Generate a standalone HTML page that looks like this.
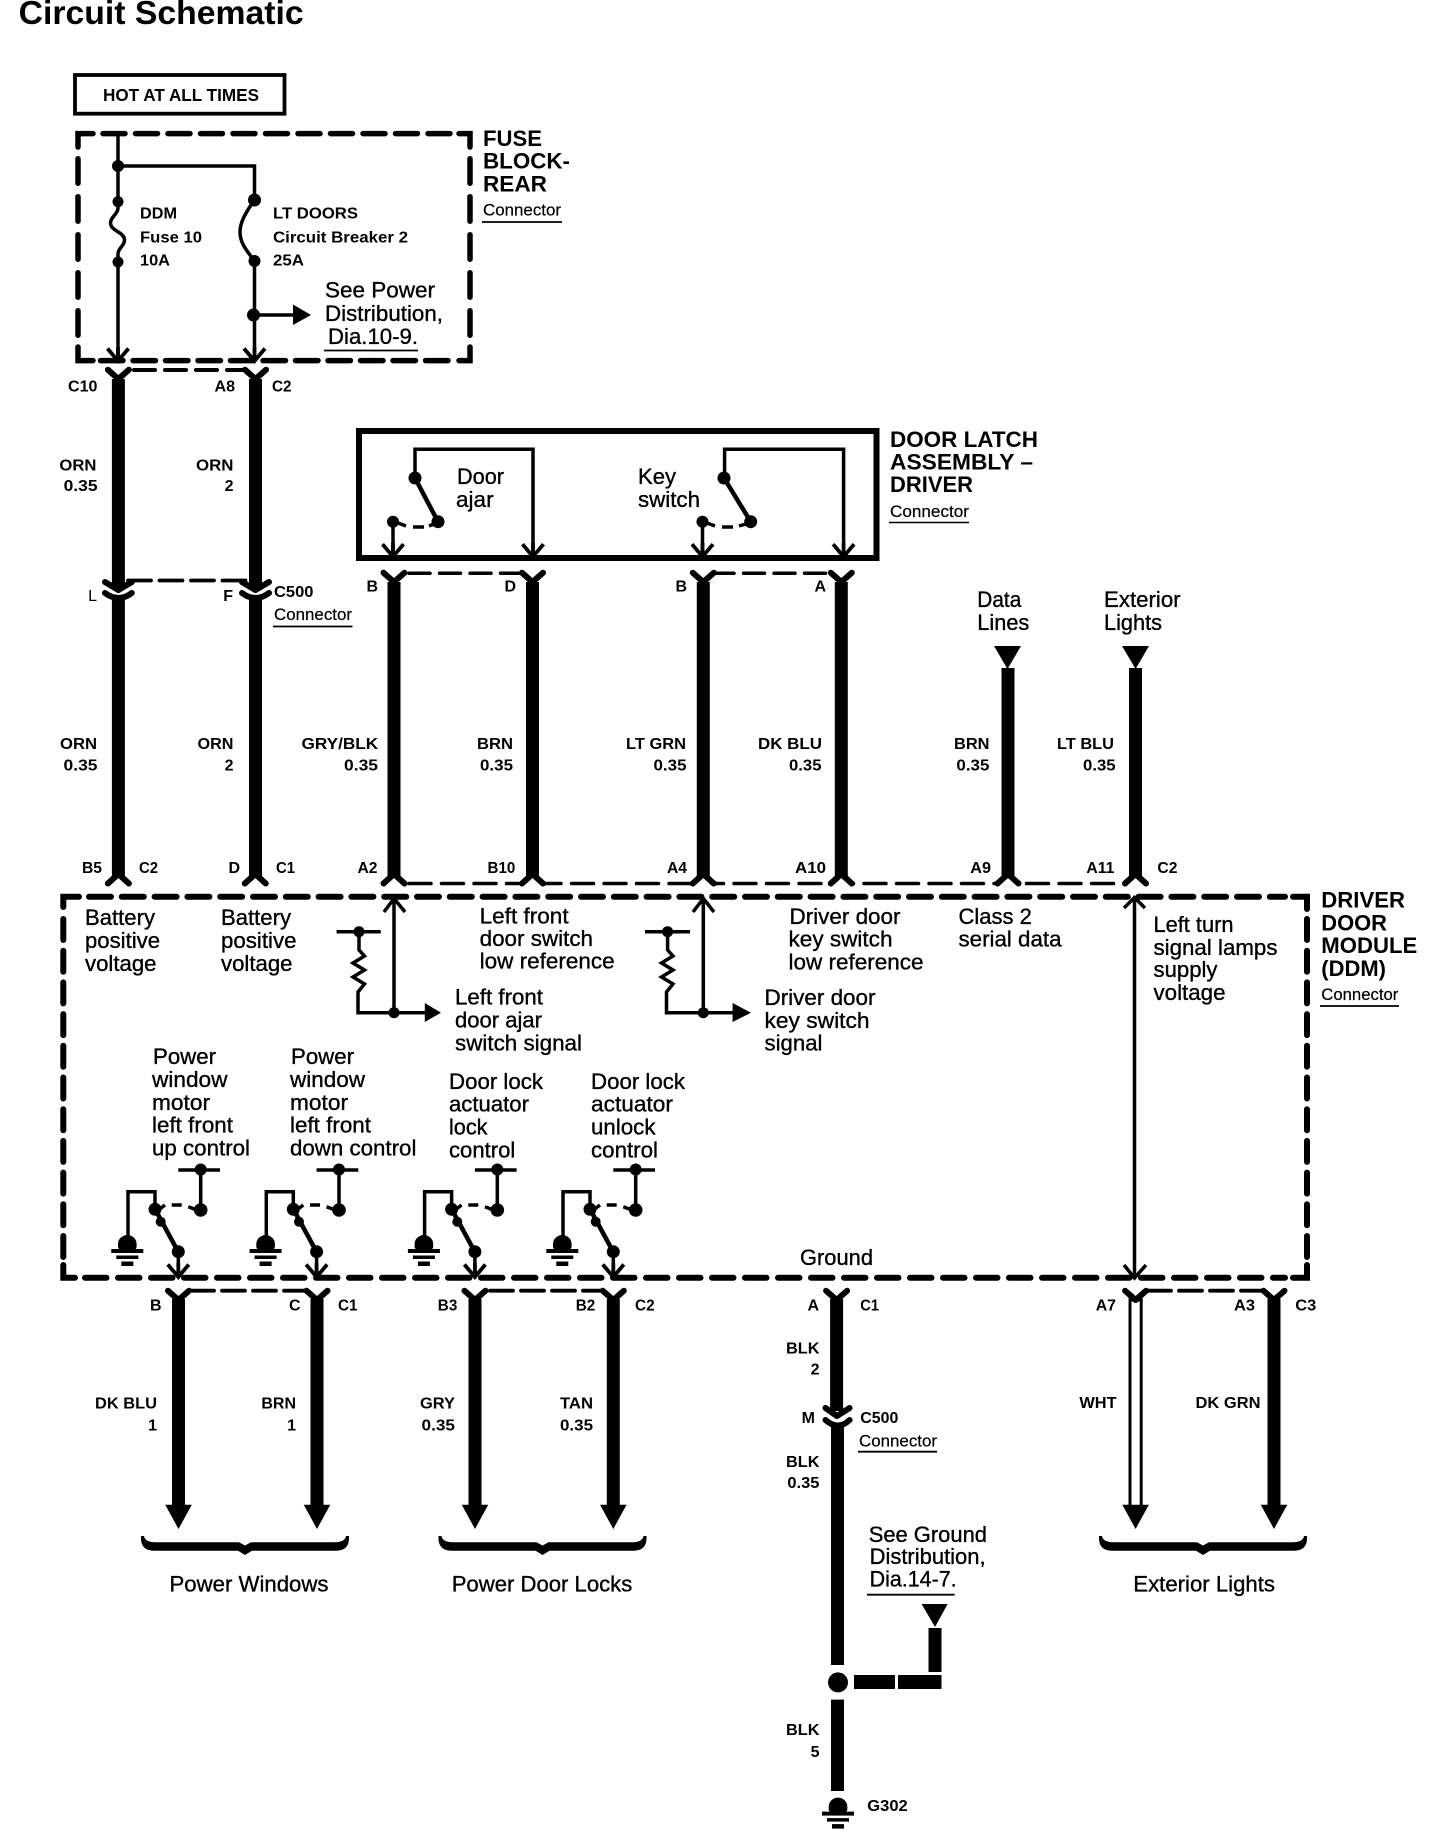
<!DOCTYPE html>
<html><head><meta charset="utf-8"><title>Circuit Schematic</title>
<style>
html,body{margin:0;padding:0;background:#fff;width:1456px;height:1838px;overflow:hidden}
svg{display:block}
text{fill:#000;font-family:"Liberation Sans",Arial,sans-serif}
.t{font-weight:bold;font-size:33px}
.h{font-weight:bold;font-size:22px}
.b{font-weight:bold;font-size:16px}
.e{font-weight:bold;font-size:16px;text-anchor:end}
.r{font-size:22.5px;stroke:#000;stroke-width:.35px}
.c{font-size:17px;stroke:#000;stroke-width:.2px}
.w{fill:none;stroke:#000;stroke-width:13}
.n{fill:none;stroke:#000;stroke-width:3.5}
</style></head><body>
<svg xmlns="http://www.w3.org/2000/svg" width="1456" height="1838" viewBox="0 0 1456 1838">
<defs>
<path id="ft" d="M-10.5 -9.3 L0 0 L10.5 -9.3" fill="none" stroke="#000" stroke-width="6" stroke-linecap="round" stroke-linejoin="round"/>
<path id="fb" d="M-10.5 9.5 L0 0 L10.5 9.5" fill="none" stroke="#000" stroke-width="6" stroke-linecap="round" stroke-linejoin="round"/>
<path id="va" d="M-10.5 -12.5 L0 0 L10.5 -12.5 M0 0 V-14" fill="none" stroke="#000" stroke-width="3.8"/>
<g id="gnd"><path d="M-9.3 12 V9 A9.3 9 0 0 1 9.3 9 V12 Q9 14.5 6 14.5 H-6 Q-9 14.5 -9.3 12 Z"/><rect x="-16" y="14" width="32" height="4"/><rect x="-11" y="20.5" width="22" height="3.5"/><rect x="-6" y="26.5" width="12" height="4.5"/></g>
<path id="br" d="M-104 -10 L-101 -10 Q-100 -4 -90 -3.7 H-6 L0 -0.5 L6 -3.7 H90 Q100 -4 101 -10 L104 -10 Q105 4.7 91 4.7 H7 L0 9 L-7 4.7 H-91 Q-105 4.7 -104 -10 Z"/>
<rect id="wg" x="-10" y="-3" width="20" height="6" fill="#fff"/>
<g id="sw">
<path class="n" d="M178.3 1170 H220 M200.7 1170 V1210 M155 1209 V1191.7 H128 V1236"/>
<circle cx="200.7" cy="1169.5" r="6"/><circle cx="200.7" cy="1210" r="6.8"/><circle cx="155" cy="1209.3" r="6.5"/>
<circle cx="160.7" cy="1221.7" r="5"/><circle cx="178.3" cy="1251.7" r="6.5"/>
<path d="M155 1209 L178.3 1252" fill="none" stroke="#000" stroke-width="4.5"/>
<path class="n" d="M157 1211 L165 1205 M171.7 1205 H181.7 M188.3 1206.7 L196.7 1210 M178.3 1252 V1276"/>
<use href="#va" x="178.3" y="1277"/>
<use href="#gnd" x="127.3" y="1235"/>
</g>
</defs>

<text class="t" x="18.6" y="24" textLength="285" lengthAdjust="spacingAndGlyphs">Circuit Schematic</text>

<!-- HOT -->
<rect x="75" y="75" width="209.5" height="38.7" fill="none" stroke="#000" stroke-width="3.8"/>
<text class="b" x="103" y="101" textLength="156" lengthAdjust="spacingAndGlyphs" style="font-size:17.5px">HOT AT ALL TIMES</text>

<!-- Fuse block -->
<g fill="none" stroke="#000" stroke-width="5.5" stroke-linecap="round">
<path d="M78 147 V133.6 H93 M459 133.6 H470 V147 M78 347 V360.6 H93 M459 360.6 H470 V347"/>
<path d="M103 133.6 H452" stroke-dasharray="22 10.5"/>
<path d="M100.5 360.6 H452" stroke-dasharray="22.5 10"/>
<path d="M78 158.7 V338" stroke-dasharray="24.5 13.5"/>
<path d="M470 158.7 V338" stroke-dasharray="24.5 13.5"/>
</g>
<path class="n" d="M118 134 V202 L118 208 C118 214 110.5 217 110.5 223 C110.5 231 124.5 232 124.5 240 C124.5 246 118 248 118 254 V360 M118 166 H254.5 V200 C246 212 240 222 240 232 C240 244 248 252 254.5 261 V360 M254 315 H295"/>
<circle cx="118" cy="166" r="6"/><circle cx="118" cy="201.7" r="5.5"/><circle cx="118" cy="262" r="5.5"/>
<circle cx="254.5" cy="200" r="6.5"/><circle cx="254.5" cy="261" r="6"/><circle cx="253.5" cy="315" r="6.5"/>
<path d="M293 304.5 L311 315 L293 325 Z"/>
<use href="#va" x="118" y="361"/><use href="#va" x="254.5" y="361"/>
<text class="b" x="140" y="218.7" textLength="37" lengthAdjust="spacingAndGlyphs">DDM</text>
<text class="b" x="140" y="242.4" textLength="62" lengthAdjust="spacingAndGlyphs">Fuse 10</text>
<text class="b" x="140" y="265.7" textLength="30" lengthAdjust="spacingAndGlyphs">10A</text>
<text class="b" x="273" y="218.7" textLength="85" lengthAdjust="spacingAndGlyphs">LT DOORS</text>
<text class="b" x="273" y="242.4" textLength="135" lengthAdjust="spacingAndGlyphs">Circuit Breaker 2</text>
<text class="b" x="273" y="265.7" textLength="31" lengthAdjust="spacingAndGlyphs">25A</text>
<text class="r" x="325" y="297.4" textLength="110" lengthAdjust="spacingAndGlyphs">See Power</text>
<text class="r" x="325" y="321" textLength="118" lengthAdjust="spacingAndGlyphs">Distribution,</text>
<text class="r" x="328" y="344" textLength="90" lengthAdjust="spacingAndGlyphs">Dia.10-9.</text>
<path d="M324 350.5 H418" stroke="#000" stroke-width="1.8"/>
<text class="h" x="483" y="146" textLength="59" lengthAdjust="spacingAndGlyphs">FUSE</text>
<text class="h" x="483" y="168.5" textLength="87" lengthAdjust="spacingAndGlyphs">BLOCK-</text>
<text class="h" x="483" y="191.6" textLength="64" lengthAdjust="spacingAndGlyphs">REAR</text>
<text class="c" x="483" y="215.5" textLength="78" lengthAdjust="spacingAndGlyphs">Connector</text>
<path d="M482 222 H562" stroke="#000" stroke-width="1.8"/>

<!-- Top wires -->
<path class="w" d="M118.4 379 V589 M255.5 379 V589 M118.4 598 V876 M255.5 598 V876"/>
<use href="#ft" x="118.4" y="379"/><use href="#ft" x="255.5" y="379"/>
<path d="M134 370 H246" stroke="#000" stroke-width="4" stroke-dasharray="21 10" stroke-linecap="round" fill="none"/>
<path d="M105 582 L118.4 590 L131.8 582 M242 582 L255.5 590 L269 582" fill="none" stroke="#000" stroke-width="6" stroke-linecap="round" stroke-linejoin="round"/>
<path d="M105 593 Q118.4 603 131.8 593 M242 593 Q255.5 603 269 593" fill="none" stroke="#000" stroke-width="6" stroke-linecap="round"/>
<path d="M128 580.5 H246" stroke="#000" stroke-width="3.8" stroke-dasharray="23 8.5" stroke-linecap="round" fill="none"/>
<text class="b" x="68" y="391.5" textLength="29.5" lengthAdjust="spacingAndGlyphs">C10</text>
<text class="b" x="214.5" y="391.5" textLength="20.5" lengthAdjust="spacingAndGlyphs">A8</text>
<text class="b" x="272" y="391.5" textLength="19.5" lengthAdjust="spacingAndGlyphs">C2</text>
<text class="b" x="59.4" y="470.5" textLength="37" lengthAdjust="spacingAndGlyphs">ORN</text>
<text class="b" x="63.6" y="491" textLength="34" lengthAdjust="spacingAndGlyphs">0.35</text>
<text class="b" x="196" y="470.5" textLength="37.5" lengthAdjust="spacingAndGlyphs">ORN</text>
<text class="e" x="233.5" y="491">2</text>
<text class="e" x="97" y="601" style="font-weight:normal">L</text>
<text class="e" x="233" y="601">F</text>
<text class="b" x="274" y="597" textLength="39.5" lengthAdjust="spacingAndGlyphs">C500</text>
<text class="c" x="274" y="620" textLength="78" lengthAdjust="spacingAndGlyphs">Connector</text>
<path d="M273 626.5 H352.5" stroke="#000" stroke-width="1.8"/>

<!-- Door latch -->
<rect x="359" y="431" width="517.5" height="127" fill="none" stroke="#000" stroke-width="6"/>
<path class="n" d="M415 478 V449.3 H533 V556 M393 522 V556 M724.6 478 V449.3 H843.6 V556 M702.5 522 V556"/>
<circle cx="415" cy="478" r="6.5"/><circle cx="438" cy="521.7" r="6.5"/><circle cx="393" cy="521.7" r="6"/>
<circle cx="724" cy="478" r="6.5"/><circle cx="750.7" cy="521.7" r="6.5"/><circle cx="702.5" cy="521.7" r="6"/>
<path d="M415 478 L438 521.7 M724 478 L750.7 521.7" fill="none" stroke="#000" stroke-width="4.5"/>
<path class="n" d="M398 523 L406 526 M413 527 H424 M429 526 L434 524 M707 523 L715 526 M722 527 H733 M739 526 L746 524"/>
<use href="#va" x="393" y="556.7"/><use href="#va" x="533" y="556.7"/><use href="#va" x="702.5" y="556.7"/><use href="#va" x="843.6" y="556.7"/>
<text class="r" x="457" y="484" textLength="47" lengthAdjust="spacingAndGlyphs">Door</text>
<text class="r" x="456" y="507" textLength="37.6" lengthAdjust="spacingAndGlyphs">ajar</text>
<text class="r" x="638" y="484" textLength="38" lengthAdjust="spacingAndGlyphs">Key</text>
<text class="r" x="638" y="507" textLength="62" lengthAdjust="spacingAndGlyphs">switch</text>
<text class="h" x="890" y="447" textLength="148" lengthAdjust="spacingAndGlyphs">DOOR LATCH</text>
<text class="h" x="890" y="469.5" textLength="143" lengthAdjust="spacingAndGlyphs">ASSEMBLY –</text>
<text class="h" x="890" y="492" textLength="83" lengthAdjust="spacingAndGlyphs">DRIVER</text>
<text class="c" x="890" y="517" textLength="79" lengthAdjust="spacingAndGlyphs">Connector</text>
<path d="M889 522.5 H969" stroke="#000" stroke-width="1.5"/>

<!-- Middle wires -->
<path class="w" d="M394 582 V876 M532.5 582 V876 M703.3 582 V876 M841.3 582 V876 M1008 668 V876 M1135.5 668 V876"/>
<use href="#ft" x="394" y="582"/><use href="#ft" x="532.5" y="582"/><use href="#ft" x="703.3" y="582"/><use href="#ft" x="841.3" y="582"/>
<path d="M409 573.3 H522 M713 573.3 H829" stroke="#000" stroke-width="3.5" stroke-dasharray="21 9.5" stroke-linecap="round" fill="none"/>
<path d="M994 646 H1021 L1007.5 669 Z M1122 646 H1149 L1135.6 669 Z"/>
<path d="M409 883.5 H1121" stroke="#000" stroke-width="3.5" stroke-dasharray="22 10.5" stroke-linecap="round" fill="none"/>
<use href="#wg" x="532.5" y="884"/><use href="#wg" x="703.3" y="884"/><use href="#wg" x="841.3" y="884"/><use href="#wg" x="1008" y="884"/>
<use href="#fb" x="118.4" y="874"/><use href="#fb" x="255.3" y="874"/><use href="#fb" x="394" y="874"/><use href="#fb" x="532.5" y="874"/><use href="#fb" x="703.3" y="874"/><use href="#fb" x="841.3" y="874"/><use href="#fb" x="1008" y="874"/><use href="#fb" x="1135.5" y="874"/>
<text class="e" x="378" y="591.7">B</text>
<text class="e" x="516" y="591.7">D</text>
<text class="e" x="687" y="591.7">B</text>
<text class="e" x="826" y="591.7">A</text>
<text class="r" x="977.3" y="607" textLength="44" lengthAdjust="spacingAndGlyphs">Data</text>
<text class="r" x="977.3" y="630" textLength="52" lengthAdjust="spacingAndGlyphs">Lines</text>
<text class="r" x="1104" y="607" textLength="76.6" lengthAdjust="spacingAndGlyphs">Exterior</text>
<text class="r" x="1104" y="630" textLength="58" lengthAdjust="spacingAndGlyphs">Lights</text>
<text class="b" x="60" y="749" textLength="37" lengthAdjust="spacingAndGlyphs">ORN</text>
<text class="b" x="63.5" y="770.5" textLength="34" lengthAdjust="spacingAndGlyphs">0.35</text>
<text class="b" x="197.5" y="749" textLength="36" lengthAdjust="spacingAndGlyphs">ORN</text>
<text class="e" x="233.5" y="770.5">2</text>
<text class="b" x="301.5" y="749" textLength="76.7" lengthAdjust="spacingAndGlyphs">GRY/BLK</text>
<text class="b" x="344" y="770.5" textLength="34" lengthAdjust="spacingAndGlyphs">0.35</text>
<text class="b" x="477" y="749" textLength="36" lengthAdjust="spacingAndGlyphs">BRN</text>
<text class="b" x="480" y="770.5" textLength="33" lengthAdjust="spacingAndGlyphs">0.35</text>
<text class="b" x="626" y="749" textLength="60" lengthAdjust="spacingAndGlyphs">LT GRN</text>
<text class="b" x="653.5" y="770.5" textLength="33" lengthAdjust="spacingAndGlyphs">0.35</text>
<text class="b" x="758" y="749" textLength="64" lengthAdjust="spacingAndGlyphs">DK BLU</text>
<text class="b" x="789" y="770.5" textLength="32.5" lengthAdjust="spacingAndGlyphs">0.35</text>
<text class="b" x="954" y="749" textLength="35.5" lengthAdjust="spacingAndGlyphs">BRN</text>
<text class="b" x="956.4" y="770.5" textLength="33" lengthAdjust="spacingAndGlyphs">0.35</text>
<text class="b" x="1057" y="749" textLength="57" lengthAdjust="spacingAndGlyphs">LT BLU</text>
<text class="b" x="1083" y="770.5" textLength="32.6" lengthAdjust="spacingAndGlyphs">0.35</text>
<text class="b" x="82" y="873" textLength="20" lengthAdjust="spacingAndGlyphs">B5</text>
<text class="b" x="139" y="873" textLength="19" lengthAdjust="spacingAndGlyphs">C2</text>
<text class="e" x="240" y="873">D</text>
<text class="b" x="276" y="873" textLength="19" lengthAdjust="spacingAndGlyphs">C1</text>
<text class="b" x="357.5" y="873" textLength="20" lengthAdjust="spacingAndGlyphs">A2</text>
<text class="b" x="487.5" y="873" textLength="27.8" lengthAdjust="spacingAndGlyphs">B10</text>
<text class="b" x="667" y="873" textLength="20" lengthAdjust="spacingAndGlyphs">A4</text>
<text class="b" x="795" y="873" textLength="31" lengthAdjust="spacingAndGlyphs">A10</text>
<text class="b" x="970.3" y="873" textLength="20.7" lengthAdjust="spacingAndGlyphs">A9</text>
<text class="b" x="1086.4" y="873" textLength="28" lengthAdjust="spacingAndGlyphs">A11</text>
<text class="b" x="1157.4" y="873" textLength="20" lengthAdjust="spacingAndGlyphs">C2</text>

<!-- Module box -->
<g fill="none" stroke="#000" stroke-width="6" stroke-linecap="round">
<path d="M63.3 907 V896.8 H79 M1293 896.8 H1307 V909 M63.3 1265 V1277.7 H75 M1293 1277.7 H1307 V1265"/>
<path d="M89 896.8 H1285" stroke-dasharray="22 10.8"/>
<path d="M85 1277.7 H1285" stroke-dasharray="21.5 11.5"/>
<path d="M63.3 919 V1258" stroke-dasharray="21 10.7"/>
<path d="M1307 919 V1258" stroke-dasharray="21 10.7"/>
</g>
<text class="r" x="85" y="925" textLength="70" lengthAdjust="spacingAndGlyphs">Battery</text>
<text class="r" x="85" y="948" textLength="75" lengthAdjust="spacingAndGlyphs">positive</text>
<text class="r" x="85" y="971" textLength="71.5" lengthAdjust="spacingAndGlyphs">voltage</text>
<text class="r" x="221" y="925" textLength="70" lengthAdjust="spacingAndGlyphs">Battery</text>
<text class="r" x="221" y="948" textLength="75.5" lengthAdjust="spacingAndGlyphs">positive</text>
<text class="r" x="221" y="971" textLength="71.5" lengthAdjust="spacingAndGlyphs">voltage</text>
<text class="r" x="479.6" y="923.3" textLength="89" lengthAdjust="spacingAndGlyphs">Left front</text>
<text class="r" x="479.6" y="946" textLength="113.4" lengthAdjust="spacingAndGlyphs">door switch</text>
<text class="r" x="479.6" y="968.6" textLength="135" lengthAdjust="spacingAndGlyphs">low reference</text>
<text class="r" x="455" y="1004.3" textLength="88" lengthAdjust="spacingAndGlyphs">Left front</text>
<text class="r" x="455" y="1027.5" textLength="87" lengthAdjust="spacingAndGlyphs">door ajar</text>
<text class="r" x="455" y="1050.7" textLength="127" lengthAdjust="spacingAndGlyphs">switch signal</text>
<text class="r" x="789.5" y="924" textLength="111" lengthAdjust="spacingAndGlyphs">Driver door</text>
<text class="r" x="788.5" y="946.5" textLength="104" lengthAdjust="spacingAndGlyphs">key switch</text>
<text class="r" x="788.5" y="969.4" textLength="135" lengthAdjust="spacingAndGlyphs">low reference</text>
<text class="r" x="764.5" y="1005" textLength="111" lengthAdjust="spacingAndGlyphs">Driver door</text>
<text class="r" x="764.5" y="1028" textLength="105" lengthAdjust="spacingAndGlyphs">key switch</text>
<text class="r" x="764.5" y="1050.7" textLength="58" lengthAdjust="spacingAndGlyphs">signal</text>
<text class="r" x="958.5" y="924" textLength="73.3" lengthAdjust="spacingAndGlyphs">Class 2</text>
<text class="r" x="958.5" y="946.5" textLength="103" lengthAdjust="spacingAndGlyphs">serial data</text>
<text class="r" x="1153.5" y="932" textLength="80" lengthAdjust="spacingAndGlyphs">Left turn</text>
<text class="r" x="1153.5" y="954.8" textLength="124" lengthAdjust="spacingAndGlyphs">signal lamps</text>
<text class="r" x="1153.5" y="977" textLength="64" lengthAdjust="spacingAndGlyphs">supply</text>
<text class="r" x="1153.5" y="1000" textLength="72" lengthAdjust="spacingAndGlyphs">voltage</text>
<text class="h" x="1321.3" y="907.5" textLength="83.7" lengthAdjust="spacingAndGlyphs">DRIVER</text>
<text class="h" x="1321.3" y="930.3" textLength="65.7" lengthAdjust="spacingAndGlyphs">DOOR</text>
<text class="h" x="1321.3" y="953" textLength="96" lengthAdjust="spacingAndGlyphs">MODULE</text>
<text class="h" x="1321.3" y="976" textLength="64.7" lengthAdjust="spacingAndGlyphs">(DDM)</text>
<text class="c" x="1321.3" y="1000" textLength="77" lengthAdjust="spacingAndGlyphs">Connector</text>
<path d="M1320 1006 H1399" stroke="#000" stroke-width="1.8"/>

<!-- resistor circuits -->
<path class="n" d="M336.6 931.7 H380.7 M359 932 V950 L364.5 956 L353 963 L364.5 970 L353 977 L364.5 984 L358 992 V1012.7 H426 M394 899 V1012.7"/>
<circle cx="359" cy="931.7" r="5.5"/><circle cx="394" cy="1012.7" r="5.5"/>
<path d="M424.8 1003 L441 1012.7 L424.8 1022 Z"/>
<path class="n" d="M384 912 L394 898.5 L405 912"/>
<path class="n" d="M645 931.7 H690 M667.6 932 V950 L673 956 L661.5 963 L673 970 L661.5 977 L673 984 L666.5 992 V1012.7 H734 M703.3 899 V1012.7"/>
<circle cx="667.6" cy="931.7" r="5.5"/><circle cx="703.3" cy="1012.7" r="5.5"/>
<path d="M732.6 1003 L751 1012.7 L732.6 1022 Z"/>
<path class="n" d="M693 912 L703.3 898.5 L714 912"/>
<path class="n" d="M1134.5 899 V1277 M1124 908 L1134.5 897.5 L1145 908 M1124 1265 L1134.5 1278 L1146 1265"/>

<!-- Switch labels -->
<text class="r" x="153" y="1064" textLength="63" lengthAdjust="spacingAndGlyphs">Power</text>
<text class="r" x="152" y="1087" textLength="75.5" lengthAdjust="spacingAndGlyphs">window</text>
<text class="r" x="152" y="1110" textLength="58" lengthAdjust="spacingAndGlyphs">motor</text>
<text class="r" x="152" y="1132.7" textLength="81" lengthAdjust="spacingAndGlyphs">left front</text>
<text class="r" x="152" y="1155.7" textLength="98" lengthAdjust="spacingAndGlyphs">up control</text>
<text class="r" x="291" y="1064" textLength="63" lengthAdjust="spacingAndGlyphs">Power</text>
<text class="r" x="290" y="1087" textLength="75" lengthAdjust="spacingAndGlyphs">window</text>
<text class="r" x="290" y="1110" textLength="58" lengthAdjust="spacingAndGlyphs">motor</text>
<text class="r" x="290" y="1132.7" textLength="81" lengthAdjust="spacingAndGlyphs">left front</text>
<text class="r" x="290" y="1155.7" textLength="126.4" lengthAdjust="spacingAndGlyphs">down control</text>
<text class="r" x="449" y="1089" textLength="94" lengthAdjust="spacingAndGlyphs">Door lock</text>
<text class="r" x="449" y="1111.7" textLength="80" lengthAdjust="spacingAndGlyphs">actuator</text>
<text class="r" x="449" y="1134.3" textLength="38.5" lengthAdjust="spacingAndGlyphs">lock</text>
<text class="r" x="449" y="1157.3" textLength="66.3" lengthAdjust="spacingAndGlyphs">control</text>
<text class="r" x="591" y="1089" textLength="94" lengthAdjust="spacingAndGlyphs">Door lock</text>
<text class="r" x="591" y="1111.7" textLength="82" lengthAdjust="spacingAndGlyphs">actuator</text>
<text class="r" x="591" y="1134.3" textLength="64.5" lengthAdjust="spacingAndGlyphs">unlock</text>
<text class="r" x="591" y="1157.3" textLength="67" lengthAdjust="spacingAndGlyphs">control</text>
<text class="r" x="800" y="1264.8" textLength="73" lengthAdjust="spacingAndGlyphs">Ground</text>

<use href="#sw"/><use href="#sw" x="138.3"/><use href="#sw" x="296.6"/><use href="#sw" x="435"/>

<!-- Lower wires -->
<path class="w" d="M178.5 1299 V1506 M317 1299 V1506 M475 1299 V1506 M613.3 1299 V1506 M1274 1299 V1506"/>
<path d="M165.2 1504.7 H191.8 L178.5 1529 Z M303.7 1504.7 H330.3 L317 1529 Z M461.7 1504.7 H488.3 L475 1529 Z M600 1504.7 H626.6 L613.3 1529 Z M1260.7 1504.7 H1287.3 L1274 1529 Z M1122.3 1504.7 H1148.9 L1135.6 1529 Z"/>
<use href="#ft" x="178.5" y="1300"/><use href="#ft" x="317" y="1300"/><use href="#ft" x="475" y="1300"/><use href="#ft" x="613.3" y="1300"/><use href="#ft" x="836.6" y="1300"/><use href="#ft" x="1135.6" y="1300"/><use href="#ft" x="1274" y="1300"/>
<path d="M191 1290.7 H304 M490 1290.7 H601 M1148 1290.7 H1262" stroke="#000" stroke-width="3.8" stroke-dasharray="23 8" stroke-linecap="round" fill="none"/>
<path d="M1130 1300 V1505 M1141.2 1300 V1505" fill="none" stroke="#000" stroke-width="3"/>
<path d="M1128.6 1299.5 H1142.6" stroke="#000" stroke-width="4"/>
<!-- brackets -->
<use href="#br" x="245" y="1546"/><use href="#br" x="542.5" y="1546"/><use href="#br" x="1203" y="1546"/>
<text class="r" x="169.5" y="1591.7" textLength="159" lengthAdjust="spacingAndGlyphs">Power Windows</text>
<text class="r" x="451.7" y="1591.7" textLength="180.6" lengthAdjust="spacingAndGlyphs">Power Door Locks</text>
<text class="r" x="1133.3" y="1591.7" textLength="141.7" lengthAdjust="spacingAndGlyphs">Exterior Lights</text>

<text class="e" x="161.5" y="1310.7">B</text>
<text class="e" x="300.5" y="1310.7">C</text>
<text class="b" x="338" y="1310.7" textLength="19.5" lengthAdjust="spacingAndGlyphs">C1</text>
<text class="b" x="437.8" y="1310.7" textLength="19.5" lengthAdjust="spacingAndGlyphs">B3</text>
<text class="b" x="575.7" y="1310.7" textLength="19.5" lengthAdjust="spacingAndGlyphs">B2</text>
<text class="b" x="635" y="1310.7" textLength="19.6" lengthAdjust="spacingAndGlyphs">C2</text>
<text class="e" x="819" y="1310.7">A</text>
<text class="b" x="860.3" y="1310.7" textLength="18.7" lengthAdjust="spacingAndGlyphs">C1</text>
<text class="b" x="1095.7" y="1310.7" textLength="20.3" lengthAdjust="spacingAndGlyphs">A7</text>
<text class="b" x="1234" y="1310.7" textLength="21" lengthAdjust="spacingAndGlyphs">A3</text>
<text class="b" x="1295.3" y="1310.7" textLength="21" lengthAdjust="spacingAndGlyphs">C3</text>
<text class="b" x="95" y="1408.3" textLength="62" lengthAdjust="spacingAndGlyphs">DK BLU</text>
<text class="e" x="157" y="1430.7">1</text>
<text class="b" x="261.4" y="1408.3" textLength="34.6" lengthAdjust="spacingAndGlyphs">BRN</text>
<text class="e" x="296" y="1430.7">1</text>
<text class="b" x="420" y="1408.3" textLength="35" lengthAdjust="spacingAndGlyphs">GRY</text>
<text class="b" x="421.5" y="1430.7" textLength="33.5" lengthAdjust="spacingAndGlyphs">0.35</text>
<text class="b" x="560" y="1408.3" textLength="33" lengthAdjust="spacingAndGlyphs">TAN</text>
<text class="b" x="560" y="1430.7" textLength="33" lengthAdjust="spacingAndGlyphs">0.35</text>
<text class="b" x="1079.4" y="1407.8" textLength="37.2" lengthAdjust="spacingAndGlyphs">WHT</text>
<text class="b" x="1195.5" y="1407.8" textLength="65" lengthAdjust="spacingAndGlyphs">DK GRN</text>

<!-- Ground column -->
<path class="w" d="M836.6 1299 V1411 M837.5 1425 V1665 M837.5 1699.6 V1791"/>
<path d="M825.5 1408 L837 1416 L849.6 1408" fill="none" stroke="#000" stroke-width="6" stroke-linecap="round" stroke-linejoin="round"/>
<path d="M825.5 1420 Q838 1431 849.6 1420" fill="none" stroke="#000" stroke-width="6" stroke-linecap="round"/>
<circle cx="838" cy="1682.4" r="10"/>
<rect x="854" y="1675" width="41" height="14"/><rect x="898" y="1675" width="43.5" height="14"/><rect x="928.5" y="1628" width="13" height="44"/>
<path d="M921.6 1604 H947.6 L935 1627 Z"/>
<use href="#gnd" x="838" y="1797.6"/>
<text class="b" x="786" y="1353.7" textLength="33.5" lengthAdjust="spacingAndGlyphs">BLK</text>
<text class="e" x="819.5" y="1374.6">2</text>
<text class="e" x="815" y="1423">M</text>
<text class="b" x="860.3" y="1423" textLength="38" lengthAdjust="spacingAndGlyphs">C500</text>
<text class="c" x="859" y="1446.7" textLength="78" lengthAdjust="spacingAndGlyphs">Connector</text>
<path d="M858 1451.7 H937" stroke="#000" stroke-width="1.8"/>
<text class="b" x="786" y="1467" textLength="33.5" lengthAdjust="spacingAndGlyphs">BLK</text>
<text class="b" x="787.4" y="1488" textLength="32" lengthAdjust="spacingAndGlyphs">0.35</text>
<text class="b" x="786" y="1735" textLength="33.5" lengthAdjust="spacingAndGlyphs">BLK</text>
<text class="e" x="819.5" y="1756.8">5</text>
<text class="b" x="867.3" y="1811" textLength="40.4" lengthAdjust="spacingAndGlyphs">G302</text>
<text class="r" x="868.7" y="1542" textLength="118.3" lengthAdjust="spacingAndGlyphs">See Ground</text>
<text class="r" x="869.6" y="1564" textLength="116" lengthAdjust="spacingAndGlyphs">Distribution,</text>
<text class="r" x="869.6" y="1586.3" textLength="87" lengthAdjust="spacingAndGlyphs">Dia.14-7.</text>
<path d="M867 1594.7 H954.6" stroke="#000" stroke-width="1.8"/>
</svg>
</body></html>
